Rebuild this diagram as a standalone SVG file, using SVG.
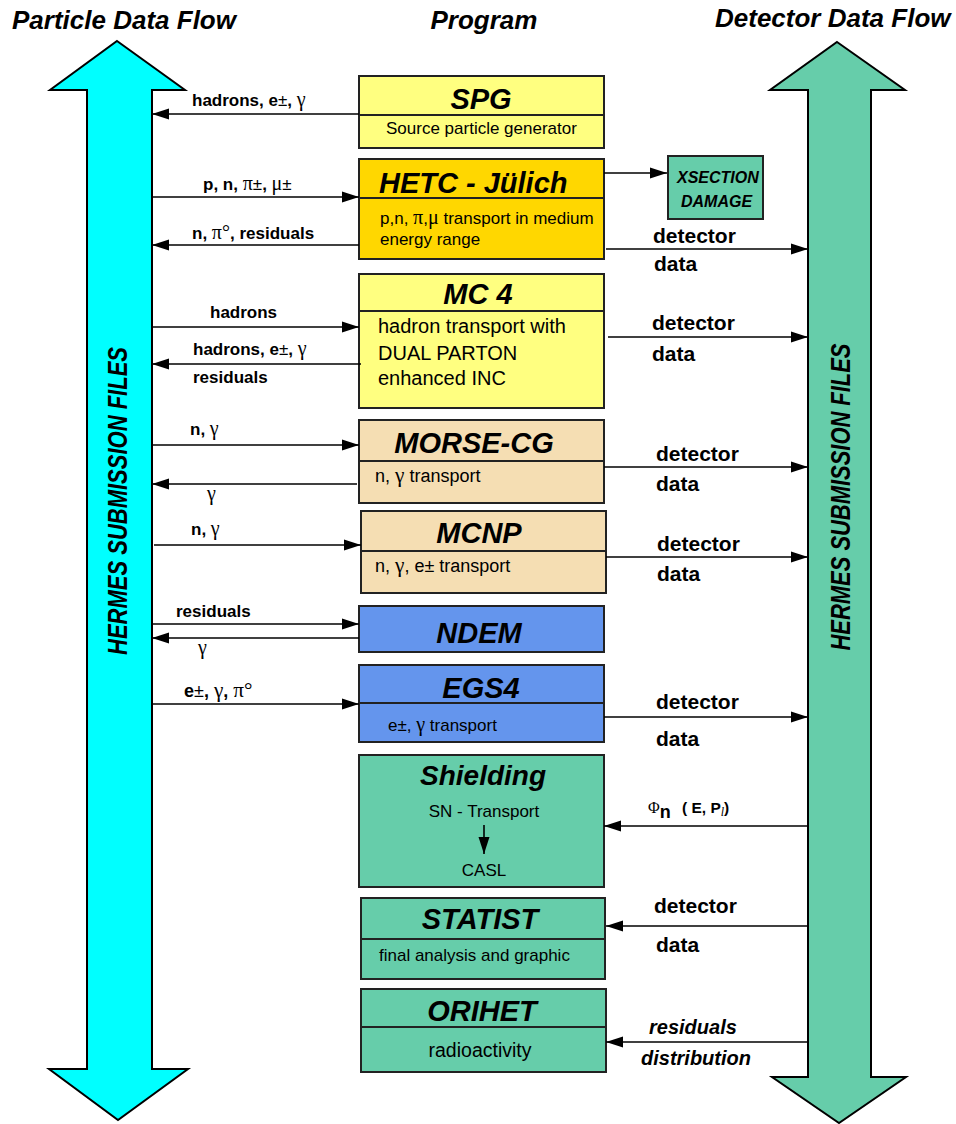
<svg xmlns="http://www.w3.org/2000/svg" width="956" height="1124" viewBox="0 0 956 1124">
<style>
.bi{font-family:"Liberation Sans",Arial,sans-serif;font-weight:bold;font-style:italic}
.head{font-size:26px}
.ttl{font-size:29px;text-anchor:middle}
.sub{font-family:"Liberation Sans",Arial,sans-serif;font-size:17px}
.lbl{font-family:"Liberation Sans",Arial,sans-serif;font-weight:bold;font-size:17px}
.det{font-family:"Liberation Sans",Arial,sans-serif;font-weight:bold;font-size:21px}
.g{font-family:"Liberation Serif","Times New Roman",serif;font-weight:normal;font-style:normal;font-size:1.18em}
.n{font-weight:normal}
.box{stroke:#222;stroke-width:2}
.div{stroke:#222;stroke-width:2}
.c{stroke:#000;stroke-width:1.6;fill:none;marker-end:url(#ah)}
.big{stroke:#000;stroke-width:2;stroke-linejoin:miter}
</style>
<defs>
<marker id="ah" markerUnits="userSpaceOnUse" markerWidth="17" markerHeight="12" refX="17" refY="6" orient="auto">
<path d="M0,0.5 L17,6 L0,11.5 z" fill="#000"/>
</marker>
</defs>
<rect width="956" height="1124" fill="#fff"/>

<g id="headers">
<text class="bi head" x="12" y="29">Particle Data Flow</text>
<text class="bi head" x="484" y="29" text-anchor="middle">Program</text>
<text class="bi head" x="715" y="27">Detector Data Flow</text>
</g>

<g id="particle-flow">
<polygon class="big" fill="#00FFFF" points="117,41 185,90 152,90 152,1069 188,1069 118,1120 49,1069 87,1069 87,90 50,90"/>
<text class="bi" style="font-size:27px" transform="translate(127,501) rotate(-90)" text-anchor="middle" textLength="308" lengthAdjust="spacingAndGlyphs">HERMES SUBMISSION FILES</text>
</g>

<g id="detector-flow">
<polygon class="big" fill="#66CDAA" points="837,42 905,90 871,90 871,1077 906,1077 839,1123 772,1077 808,1077 808,90 770,90"/>
<text class="bi" style="font-size:27px" transform="translate(850,497) rotate(-90)" text-anchor="middle" textLength="307" lengthAdjust="spacingAndGlyphs">HERMES SUBMISSION FILES</text>
</g>

<g id="spg">
<rect class="box" x="359" y="76" width="245" height="72" fill="#FFFF80"/>
<line class="div" x1="359" y1="115" x2="604" y2="115"/>
<text class="bi ttl" x="481" y="109">SPG</text>
<text class="sub" x="386" y="134">Source particle generator</text>
</g>

<g id="hetc">
<rect class="box" x="359" y="159" width="245" height="100" fill="#FFD700"/>
<line class="div" x1="359" y1="198" x2="604" y2="198"/>
<text class="bi" style="font-size:29px" x="379" y="193">HETC - Jülich</text>
<text class="sub" x="380" y="224">p,n, <tspan class="g">π</tspan>,<tspan class="g">μ</tspan> transport in medium</text>
<text class="sub" x="380" y="245">energy range</text>
</g>

<g id="xsection">
<rect class="box" x="668" y="156" width="95" height="63" fill="#66CDAA"/>
<text class="bi" style="font-size:16px" x="677" y="183">XSECTION</text>
<text class="bi" style="font-size:16px" x="681" y="207">DAMAGE</text>
</g>

<g id="mc4">
<rect class="box" x="359" y="274" width="245" height="134" fill="#FFFF80"/>
<line class="div" x1="359" y1="311" x2="604" y2="311"/>
<text class="bi ttl" x="478" y="304">MC 4</text>
<text class="sub" style="font-size:20px" x="378" y="333">hadron transport with</text>
<text class="sub" style="font-size:20px" x="378" y="360">DUAL PARTON</text>
<text class="sub" style="font-size:20px" x="378" y="385">enhanced INC</text>
</g>

<g id="morse">
<rect class="box" x="359" y="420" width="245" height="83" fill="#F5DEB3"/>
<line class="div" x1="359" y1="461" x2="604" y2="461"/>
<text class="bi ttl" x="474" y="453">MORSE-CG</text>
<text class="sub" style="font-size:18px" x="375" y="482">n, <tspan class="g">γ</tspan> transport</text>
</g>

<g id="mcnp">
<rect class="box" x="361" y="511" width="245" height="82" fill="#F5DEB3"/>
<line class="div" x1="361" y1="551" x2="606" y2="551"/>
<text class="bi ttl" x="479" y="543">MCNP</text>
<text class="sub" style="font-size:18px" x="375" y="572">n, <tspan class="g">γ</tspan>, e±  transport</text>
</g>

<g id="ndem">
<rect class="box" x="359" y="606" width="245" height="46" fill="#6495ED"/>
<text class="bi ttl" x="479" y="643">NDEM</text>
</g>

<g id="egs4">
<rect class="box" x="359" y="665" width="245" height="77" fill="#6495ED"/>
<line class="div" x1="359" y1="703" x2="604" y2="703"/>
<text class="bi ttl" x="481" y="698">EGS4</text>
<text class="sub" x="388" y="731">e±, <tspan class="g">γ</tspan> transport</text>
</g>

<g id="shielding">
<rect class="box" x="359" y="755" width="245" height="132" fill="#66CDAA"/>
<text class="bi" style="font-size:28px" x="483" y="785" text-anchor="middle">Shielding</text>
<text class="sub" x="484" y="817" text-anchor="middle">SN - Transport</text>
<line class="c" x1="484" y1="825" x2="484" y2="854"/>
<text class="sub" x="484" y="876" text-anchor="middle">CASL</text>
</g>

<g id="statist">
<rect class="box" x="361" y="898" width="244" height="81" fill="#66CDAA"/>
<line class="div" x1="361" y1="939" x2="605" y2="939"/>
<text class="bi ttl" x="480" y="929">STATIST</text>
<text class="sub" x="379" y="961">final analysis and graphic</text>
</g>

<g id="orihet">
<rect class="box" x="361" y="989" width="245" height="83" fill="#66CDAA"/>
<line class="div" x1="361" y1="1027" x2="606" y2="1027"/>
<text class="bi ttl" x="482" y="1021">ORIHET</text>
<text class="sub" style="font-size:19.5px" x="480" y="1057" text-anchor="middle">radioactivity</text>
</g>

<g id="connectors">
<line class="c" x1="359" y1="114" x2="152" y2="114"/>
<line class="c" x1="152" y1="197" x2="359" y2="197"/>
<line class="c" x1="359" y1="245" x2="152" y2="245"/>
<line class="c" x1="604" y1="173" x2="667" y2="173"/>
<line class="c" x1="606" y1="249" x2="808" y2="249"/>
<line class="c" x1="152" y1="327" x2="359" y2="327"/>
<line class="c" x1="361" y1="364" x2="152" y2="364"/>
<line class="c" x1="608" y1="337" x2="808" y2="337"/>
<line class="c" x1="152" y1="445" x2="359" y2="445"/>
<line class="c" x1="357" y1="484" x2="152" y2="484"/>
<line class="c" x1="604" y1="467" x2="808" y2="467"/>
<line class="c" x1="154" y1="545" x2="361" y2="545"/>
<line class="c" x1="606" y1="557" x2="808" y2="557"/>
<line class="c" x1="152" y1="624" x2="359" y2="624"/>
<line class="c" x1="359" y1="638" x2="152" y2="638"/>
<line class="c" x1="152" y1="704" x2="359" y2="704"/>
<line class="c" x1="604" y1="717" x2="808" y2="717"/>
<line class="c" x1="808" y1="826" x2="604" y2="826"/>
<line class="c" x1="808" y1="926" x2="606" y2="926"/>
<line class="c" x1="808" y1="1042" x2="606" y2="1042"/>
</g>

<g id="labels">
<text class="lbl" x="192" y="106">hadrons, e<tspan class="n">±</tspan>, <tspan class="g">γ</tspan></text>
<text class="lbl" x="203" y="190">p, n, <tspan class="g">π</tspan><tspan class="n">±</tspan>, <tspan class="g">μ</tspan><tspan class="n">±</tspan></text>
<text class="lbl" x="192" y="239">n, <tspan class="g">π°</tspan>,  residuals</text>
<text class="lbl" x="210" y="318">hadrons</text>
<text class="lbl" x="193" y="355">hadrons, e<tspan class="n">±</tspan>, <tspan class="g">γ</tspan></text>
<text class="lbl" x="193" y="383">residuals</text>
<text class="lbl" x="190" y="435">n, <tspan class="g">γ</tspan></text>
<text class="lbl" x="207" y="500"><tspan class="g">γ</tspan></text>
<text class="lbl" x="191" y="535">n, <tspan class="g">γ</tspan></text>
<text class="lbl" x="176" y="617">residuals</text>
<text class="lbl" x="198" y="654"><tspan class="g">γ</tspan></text>
<text class="lbl" x="184" y="697" style="font-size:18px">e<tspan class="n">±</tspan>, <tspan class="g">γ</tspan>, <tspan class="g">π°</tspan></text>

<text class="det" x="653" y="243">detector</text>
<text class="det" x="654" y="271">data</text>
<text class="det" x="652" y="330">detector</text>
<text class="det" x="652" y="361">data</text>
<text class="det" x="656" y="461">detector</text>
<text class="det" x="656" y="491">data</text>
<text class="det" x="657" y="551">detector</text>
<text class="det" x="657" y="581">data</text>
<text class="det" x="656" y="709">detector</text>
<text class="det" x="656" y="746">data</text>
<text class="det" x="654" y="913">detector</text>
<text class="det" x="656" y="952">data</text>
<text class="lbl" x="648" y="813" style="font-size:15.5px"><tspan class="g" style="font-size:16px">Φ</tspan><tspan style="font-size:18px" dy="5">n</tspan><tspan x="682" dy="-5">( E, P</tspan><tspan class="g" style="font-size:12px;font-style:italic" dy="3">l</tspan><tspan dy="-3">)</tspan></text>
<text class="bi" style="font-size:20px" x="649" y="1034">residuals</text>
<text class="bi" style="font-size:20px" x="641" y="1065">distribution</text>
</g>
</svg>
